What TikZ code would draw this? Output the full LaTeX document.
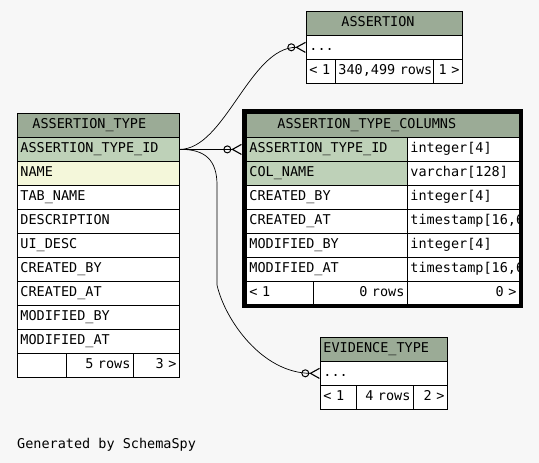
\documentclass[tikz,border=0pt]{standalone}
\usepackage{fontspec}
\setmonofont{DejaVu Sans Mono}
\usetikzlibrary{arrows.meta}
\definecolor{bgfill}{HTML}{F7F7F7}
\definecolor{headfill}{HTML}{9BAB96}
\definecolor{keyfill}{HTML}{BED1B8}
\definecolor{idxfill}{HTML}{F4F7DA}
\tikzset{
  cell/.style={draw=black, line width=0.8pt, fill=white, anchor=north west,
    inner xsep=3pt, inner ysep=0pt, minimum height=24pt, align=left,
    text height=9.5pt, text depth=2.5pt,
    font=\ttfamily\fontsize{13.5}{15}\selectfont},
  rcell/.style={cell, align=right},
  head/.style={cell, fill=headfill},
  keycell/.style={cell, fill=keyfill},
  crowodot/.style={line width=0.7pt,
    -{Circle[open,length=8pt,width=8pt,line width=1pt] Straight Barb[reversed,length=9pt,width=10pt,line width=1.1pt]}}
}

\begin{document}
\begin{tikzpicture}[x=1pt,y=-1pt]
		%%%%% background %%%%%
		\fill[bgfill] (0,0) rectangle (539,463);
		\useasboundingbox (0,0) rectangle (539,463);
		
		%%%%% ASSERTION %%%%%
		\node[head, text width=150pt] (as-head) at (306,11) {\hspace*{32pt}ASSERTION};
		\node[cell, text width=150pt] (as-row) at (306,35) {...};
		\node[cell, text width=23pt] (as-f1) at (306,59) {< 1};
		\node[cell, text width=92pt] (as-f2) at (335,59) {\mbox{340,499 rows}};
		\node[rcell, text width=23pt] (as-f3) at (433,59) {1 >};
		
		%%%%% ASSERTION_TYPE %%%%%
		\node[head, text width=156pt] (at-head) at (17,113) {\hspace*{12pt}ASSERTION\_TYPE};
		\node[keycell, text width=156pt] (at-id) at (17,137) {ASSERTION\_TYPE\_ID};
		\node[cell, fill=idxfill, text width=156pt] (at-name) at (17,161) {NAME};
		\foreach \nm [count=\i] in {TAB\_NAME, DESCRIPTION, UI\_DESC, CREATED\_BY,
		    CREATED\_AT, MODIFIED\_BY, MODIFIED\_AT}
		  \node[cell, text width=156pt] (at-\i) at (17,{161+24*\i}) {\nm};
		\node[cell, text width=43pt] (at-f1) at (17,353) {};
		\node[rcell, text width=61pt] (at-f2) at (66,353) {5 rows};
		\node[rcell, text width=40pt] (at-f3) at (133,353) {3 >};
		
		%%%%% ASSERTION_TYPE_COLUMNS %%%%%
		\begin{scope}
		  \clip (246,113) rectangle (519,305);
		  \node[head, text width=267pt] (ct-head) at (246,113) {\hspace*{28pt}ASSERTION\_TYPE\_COLUMNS};
		  \node[keycell, text width=155pt] (ct-id) at (246,137) {ASSERTION\_TYPE\_ID};
		  \node[cell, text width=106pt] (ct-id-t) at (407,137) {integer[4]};
		  \node[keycell, text width=155pt] (ct-col) at (246,161) {COL\_NAME};
		  \node[cell, text width=106pt] (ct-col-t) at (407,161) {varchar[128]};
		  \foreach \nm/\ty [count=\i] in {CREATED\_BY/integer[4], {CREATED\_AT/timestamp[16,6]},
		      MODIFIED\_BY/integer[4], {MODIFIED\_AT/timestamp[16,6]}} {
		    \node[cell, text width=155pt] (ct-\i) at (246,{161+24*\i}) {\nm};
		    \node[cell, text width=106pt] (ct-\i-t) at (407,{161+24*\i}) {\mbox{\ty}};
		  }
		  \node[cell, text width=61pt] (ct-f1) at (246,281) {< 1};
		  \node[rcell, text width=88pt] (ct-f2) at (313,281) {0 rows};
		  \node[rcell, text width=106pt] (ct-f3) at (407,281) {0 >};
		\end{scope}
		
		%%%%% EVIDENCE_TYPE %%%%%
		\node[head, text width=121pt] (ev-head) at (320,337) {EVIDENCE\_TYPE};
		\node[cell, text width=121pt] (ev-row) at (320,361) {...};
		\node[cell, text width=30pt] (ev-f1) at (320,385) {< 1};
		\node[rcell, text width=51pt] (ev-f2) at (356,385) {4 rows};
		\node[rcell, text width=28pt] (ev-f3) at (413,385) {2 >};
		
		%%%%% relations %%%%%
		\draw[crowodot] (at-id.east) .. controls (225,149) and (250,47) .. (as-row.west);
		\draw[crowodot] (at-id.east) -- ([xshift=-4pt]ct-id.west);
		\draw[crowodot] (at-id.east) .. controls (205,149) and (217,160) .. (217,185)
		  -- (217,285) .. controls (225,320) and (262,373) .. (ev-row.west);
		
		\draw[line width=4pt] (244,111) rectangle (521,306);
		
		\node[anchor=base west, inner sep=0pt, font=\ttfamily\fontsize{13.5}{15}\selectfont] (credit) at (17,448) {Generated by SchemaSpy};
	\end{tikzpicture}
\end{document}
